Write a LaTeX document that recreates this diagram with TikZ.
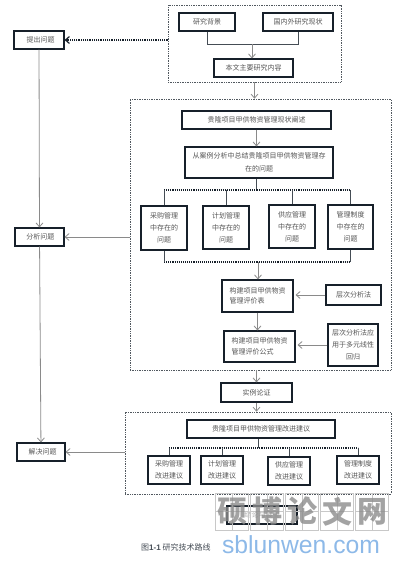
\documentclass[tikz,border=0pt]{standalone}
\usepackage{xcolor}
\usepackage{fontspec}
\setmainfont{Noto Sans CJK SC}
\newfontfamily\latinsans{Liberation Sans}
\usetikzlibrary{arrows.meta, calc}
\definecolor{Ink}{HTML}{17202A}
\definecolor{Wire}{HTML}{8A8A8A}
\definecolor{Label}{HTML}{555555}
\definecolor{MarkGray}{HTML}{8C8C8C}
\definecolor{MarkGrid}{HTML}{C8C8C8}
\definecolor{MarkBlue}{HTML}{8DB9E8}

\begin{document}
\begin{tikzpicture}[
  x=1pt, y=-1pt,
  font=\fontsize{7}{12}\selectfont,
  plainbox/.style={draw=Ink, line width=1.1pt, fill=white, text=Label, align=center, inner sep=0pt},
  frame/.style={draw=Ink!75, line width=0.7pt, densely dotted, inner sep=0pt},
  arrow/.style={-{Straight Barb[length=4pt,width=7pt]}, draw=Wire, line width=0.8pt},
  dotarrow/.style={arrow, draw=Ink, line width=1.2pt, densely dotted},
  wire/.style={draw=Ink!80, line width=0.9pt},
  bar/.style={draw=Ink, line width=1.1pt, densely dotted},
  markcell/.style={draw=MarkGrid, line width=0.6pt, minimum width=33pt, minimum height=37pt, inner sep=0pt}
]
\useasboundingbox (0,0) rectangle (404,564);

% dotted frames
\node[frame, minimum width=173pt, minimum height=77pt] (intro) at (254.5,43.5) {};
\node[frame, minimum width=261pt, minimum height=271pt] (main) at (260.5,234.5) {};
\node[frame, minimum width=266pt, minimum height=82pt] (advice) at (258,453) {};

% left column
\node[plainbox, minimum width=50pt, minimum height=18pt] (raise) at (39,40) {\ \ 提出问题};
\node[plainbox, minimum width=49pt, minimum height=18pt] (analyse) at (39.5,237) {\ 分析问题};
\node[plainbox, minimum width=48pt, minimum height=18pt] (solve) at (41,452) {\ \ 解决问题};

% background
\node[plainbox, minimum width=56pt, minimum height=18pt] (background) at (207,22) {研究背景};
\node[plainbox, minimum width=70pt, minimum height=18pt] (status) at (298,22) {国内外研究现状};
\node[plainbox, minimum width=79pt, minimum height=18pt] (content) at (253.5,68) {本文主要研究内容};
\coordinate (merge) at (252,44.5);

% problems
\node[plainbox, minimum width=149pt, minimum height=18pt] (current) at (256.5,120) {贵隆项目甲供物资管理现状阐述};
\node[plainbox, minimum width=148pt, minimum height=31pt, font=\fontsize{7}{13}\selectfont] (cases) at (259,162.5) {从案例分析中总结贵隆项目甲供物资管理存\\在的问题};
\coordinate (splittop) at (256,190);
\node[plainbox, minimum width=46pt, minimum height=44pt] (buyp) at (164,228) {采购管理\\中存在的\\问题};
\node[plainbox, minimum width=46pt, minimum height=43pt] (planp) at (226,227.5) {计划管理\\中存在的\\问题};
\node[plainbox, minimum width=46pt, minimum height=43pt] (supplyp) at (292,226.5) {供应管理\\中存在的\\问题};
\node[plainbox, minimum width=45pt, minimum height=44pt] (rulep) at (350.5,227) {管理制度\\中存在的\\问题};
\coordinate (jointop) at (258,262);

% evaluation
\node[plainbox, minimum width=71pt, minimum height=32pt] (table) at (257.5,296) {\begin{tabular}{@{}l@{}}构建项目甲供物资\\[-1.2pt]管理评价表\end{tabular}};
\node[plainbox, minimum width=55pt, minimum height=20pt] (ahp) at (353.5,295) {层次分析法};
\node[plainbox, minimum width=71pt, minimum height=31pt] (formula) at (259.5,346.5) {\begin{tabular}{@{}l@{}}构建项目甲供物资\\[-1.2pt]管理评价公式\end{tabular}};
\node[plainbox, minimum width=50pt, minimum height=42pt] (regress) at (353,345) {层次分析法应\\用于多元线性\\回归};

% case and advice
\node[plainbox, minimum width=71pt, minimum height=19pt] (proof) at (256.5,392.5) {实例论证};
\node[plainbox, minimum width=148pt, minimum height=18pt] (improve) at (261,429) {贵隆项目甲供物资管理改进建议};
\coordinate (splitlow) at (258,448);
\node[plainbox, minimum width=42pt, minimum height=28pt] (buya) at (169,470) {采购管理\\改进建议};
\node[plainbox, minimum width=42pt, minimum height=28pt] (plana) at (222,470) {计划管理\\改进建议};
\node[plainbox, minimum width=42pt, minimum height=28pt] (supplya) at (289,471) {供应管理\\改进建议};
\node[plainbox, minimum width=42pt, minimum height=28pt] (rulea) at (358,470) {管理制度\\改进建议};

% last box and caption
\node[plainbox, minimum width=70pt, minimum height=18pt, text=Label!45] (ending) at (262,515) {结论与展望};
\node[text=Ink!80, anchor=west, inner sep=0pt, font=\fontsize{8}{12}\selectfont] (caption) at (141,547) {图{\latinsans\bfseries 1-1} 研究技术路线};

% connectors
\draw[dotarrow] (intro.west |- raise.east) -- (raise.east);
\draw[arrow] (raise) -- (analyse);
\draw[arrow] (analyse) -- (solve);
\draw[wire] (background.south) |- (merge) -| (status.south);
\draw[arrow] (merge) -- (merge |- content.north);
\draw[arrow] (intro.south) -- (intro.south |- main.north);
\draw[arrow] (current.south) -- (current.south |- cases.north);
\draw[wire] (splittop |- cases.south) -- (splittop);
\draw[bar] (buyp.north |- splittop) -- (rulep.north |- splittop);
\foreach \nd in {buyp, planp, supplyp, rulep}
  \draw[wire] (\nd.north |- splittop) -- (\nd.north);
\draw[bar] (buyp.south |- jointop) -- (rulep.south |- jointop);
\draw[wire] (buyp.south) -- (buyp.south |- jointop);
\draw[wire] (rulep.south) -- (rulep.south |- jointop);
\draw[arrow] (jointop) -- (jointop |- table.north);
\draw[arrow] (table.south) -- (table.south |- formula.north);
\draw[arrow] (ahp.west) -- ($(table.east |- ahp.west)+(2,0)$);
\draw[arrow] (regress.west) -- ($(formula.east |- regress.west)+(2,0)$);
\draw[arrow] (main.west |- analyse.east) -- (analyse.east);
\draw[arrow] (proof.north |- main.south) -- (proof.north);
\draw[arrow] (proof.south) -- (proof.south |- advice.north);
\draw[wire] (splitlow |- improve.south) -- (splitlow);
\draw[bar] (buya.north |- splitlow) -- (rulea.north |- splitlow);
\foreach \nd in {buya, plana, supplya, rulea}
  \draw[wire] (\nd.north |- splitlow) -- (\nd.north);
\draw[arrow] (advice.west |- solve.east) -- (solve.east);

% watermark
\foreach \cell/\glyph/\cx in {a/硕/232, b/博/267, c/论/302, d/文/337, e/网/372} {
  \node[markcell] (cell\cell) at (\cx,511.5) {};
  \draw[draw=MarkGrid, line width=0.5pt] (cell\cell.north) -- (cell\cell.south);
  \draw[draw=MarkGrid, line width=0.5pt] (cell\cell.west) -- (cell\cell.east);
  \node[text=MarkGray, text opacity=0.8, inner sep=0pt, font=\fontsize{30}{30}\selectfont\bfseries] (glyph\cell) at (cell\cell) {\glyph};
}
\node[text=MarkBlue, inner sep=0pt, font=\fontsize{24.7}{25}\selectfont\latinsans] (site) at (301,544.5) {sblunwen.com};
\end{tikzpicture}
\end{document}
